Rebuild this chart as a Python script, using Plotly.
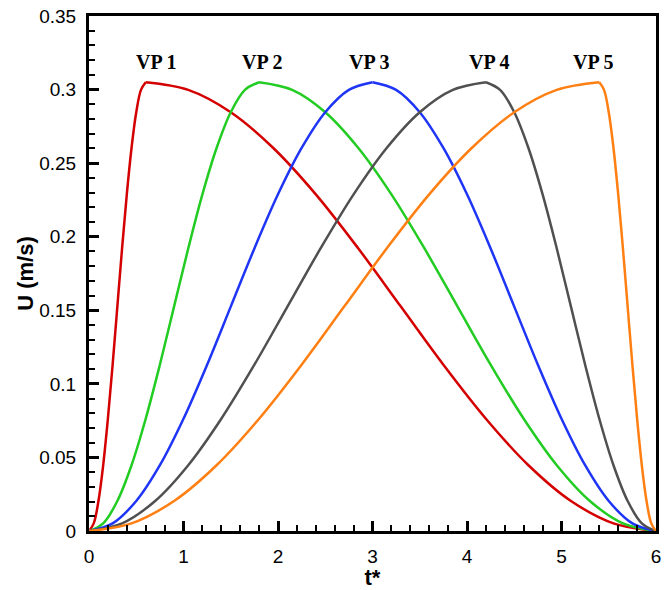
import plotly.graph_objects as go

# Values (t*, U in m/s)
vp1_t = [0, 0.05, 0.10, 0.15, 0.20, 0.25, 0.30, 0.35, 0.40, 0.45, 0.50, 0.55, 0.60,
         1.05, 1.50, 1.95, 2.40, 2.85, 3.30, 3.75, 4.20, 4.65, 5.10, 5.55, 6.00]
vp1_u = [0, 0.0052, 0.0204, 0.0447, 0.0763, 0.1130, 0.1525, 0.1920, 0.2288, 0.2603, 0.2846, 0.2998, 0.305,
         0.2998, 0.2846, 0.2603, 0.2288, 0.1920, 0.1525, 0.1130, 0.0763, 0.0447, 0.0204, 0.0052, 0]

vp2_t = [0, 0.15, 0.30, 0.45, 0.60, 0.75, 0.90, 1.05, 1.20, 1.35, 1.50, 1.65, 1.80,
         2.15, 2.50, 2.85, 3.20, 3.55, 3.90, 4.25, 4.60, 4.95, 5.30, 5.65, 6.00]
vp2_u = [0, 0.0052, 0.0204, 0.0447, 0.0763, 0.1130, 0.1525, 0.1920, 0.2288, 0.2603, 0.2846, 0.2998, 0.305,
         0.2998, 0.2846, 0.2603, 0.2288, 0.1920, 0.1525, 0.1130, 0.0763, 0.0447, 0.0204, 0.0052, 0]

vp3_t = [0, 0.25, 0.50, 0.75, 1.00, 1.25, 1.50, 1.75, 2.00, 2.25, 2.50, 2.75, 3.00,
         3.25, 3.50, 3.75, 4.00, 4.25, 4.50, 4.75, 5.00, 5.25, 5.50, 5.75, 6.00]
vp3_u = [0, 0.0052, 0.0204, 0.0447, 0.0763, 0.1130, 0.1525, 0.1920, 0.2288, 0.2603, 0.2846, 0.2998, 0.305,
         0.2998, 0.2846, 0.2603, 0.2288, 0.1920, 0.1525, 0.1130, 0.0763, 0.0447, 0.0204, 0.0052, 0]

vp4_t = [0, 0.35, 0.70, 1.05, 1.40, 1.75, 2.10, 2.45, 2.80, 3.15, 3.50, 3.85, 4.20,
         4.35, 4.50, 4.65, 4.80, 4.95, 5.10, 5.25, 5.40, 5.55, 5.70, 5.85, 6.00]
vp4_u = [0, 0.0052, 0.0204, 0.0447, 0.0763, 0.1130, 0.1525, 0.1920, 0.2288, 0.2603, 0.2846, 0.2998, 0.305,
         0.2998, 0.2846, 0.2603, 0.2288, 0.1920, 0.1525, 0.1130, 0.0763, 0.0447, 0.0204, 0.0052, 0]

vp5_t = [0, 0.45, 0.90, 1.35, 1.80, 2.25, 2.70, 3.15, 3.60, 4.05, 4.50, 4.95, 5.40,
         5.45, 5.50, 5.55, 5.60, 5.65, 5.70, 5.75, 5.80, 5.85, 5.90, 5.95, 6.00]
vp5_u = [0, 0.0052, 0.0204, 0.0447, 0.0763, 0.1130, 0.1525, 0.1920, 0.2288, 0.2603, 0.2846, 0.2998, 0.305,
         0.2998, 0.2846, 0.2603, 0.2288, 0.1920, 0.1525, 0.1130, 0.0763, 0.0447, 0.0204, 0.0052, 0]

labels = ["VP 1", "VP 2", "VP 3", "VP 4", "VP 5"]
label_t = [0.71, 1.84, 2.97, 4.24, 5.34]
label_u = [0.319, 0.319, 0.319, 0.319, 0.319]
colors = ["#D40000", "#22CC22", "#1F35F5", "#505050", "#FF7F12"]

series = [(vp1_t, vp1_u), (vp2_t, vp2_u), (vp3_t, vp3_u), (vp4_t, vp4_u), (vp5_t, vp5_u)]

fig = go.Figure()
for (t, u), c, name in zip(series, colors, labels):
    pk = u.index(max(u))
    # rising and falling branches drawn separately so the peak keeps its shape
    for xs, ys in ((t[:pk + 1], u[:pk + 1]), (t[pk:], u[pk:])):
        fig.add_trace(go.Scatter(x=xs, y=ys, mode="lines", name=name,
                                 line=dict(color=c, width=2.5, shape="spline", smoothing=1),
                                 showlegend=False))

for lab, lt, lu in zip(labels, label_t, label_u):
    fig.add_annotation(x=lt, y=lu, text="<b>" + lab + "</b>", showarrow=False,
                       font=dict(family="Liberation Serif", size=20, color="black"),
                       xanchor="center", yanchor="middle")

axis_common = dict(showline=True, linecolor="black", linewidth=3, mirror=True,
                   ticks="inside", ticklen=10, tickwidth=2.5, tickcolor="black",
                   showgrid=False, zeroline=False,
                   tickfont=dict(family="Liberation Sans", size=19, color="black"))

fig.update_xaxes(range=[0, 6], dtick=1, tick0=0,
                 minor=dict(ticks="inside", ticklen=6, tickwidth=1.5, tickcolor="black", dtick=0.2),
                 title=dict(text="<b>t*</b>", font=dict(family="Liberation Sans", size=22, color="black"),
                            standoff=2),
                 ticklabelstandoff=6,
                 **axis_common)
fig.update_yaxes(range=[0, 0.35], dtick=0.05, tick0=0,
                 minor=dict(ticks="inside", ticklen=6, tickwidth=1.5, tickcolor="black", dtick=0.01),
                 title=dict(text="<b>U (m/s)</b>", font=dict(family="Liberation Sans", size=22, color="black"),
                            standoff=0),
                 ticklabelstandoff=6,
                 **axis_common)

fig.update_layout(width=667, height=590, plot_bgcolor="white", paper_bgcolor="white",
                  margin=dict(l=89, r=6, t=16, b=49))

fig.write_html("out.html")
